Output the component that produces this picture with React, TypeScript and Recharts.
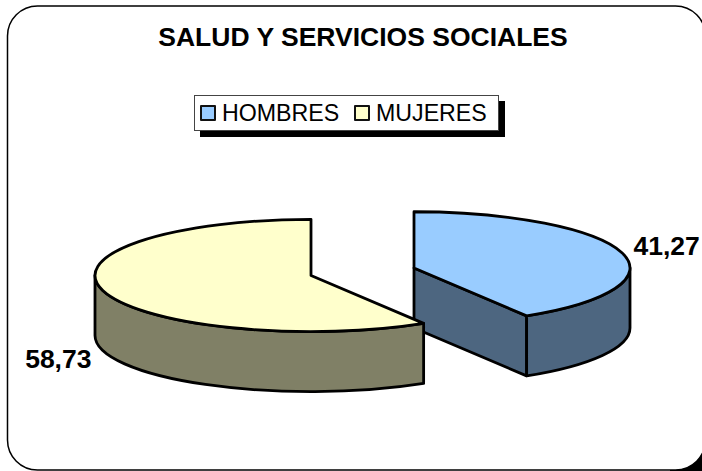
import { PieChart, Pie, Legend } from "recharts";

const categories = ["HOMBRES", "MUJERES"];
const shares = [41.27, 58.73];
const topColors = ["#99CCFF", "#FFFFCC"];
const wallColors = ["#4D6680", "#808066"];

const chartData = categories.map((name, i) => ({
  name,
  value: shares[i],
  fill: topColors[i],
  wall: wallColors[i],
}));

const SQUASH = 0.26;
const DEPTH = 60;
const EXPLODE = 53.5;
const LABEL_RADIUS = 316;
const RAD = Math.PI / 180;

// the pie is tilted, so every slice is drawn as a flattened sector with a wall below it
function TiltedSlice(props: any) {
  const { cx, cy, outerRadius, startAngle, endAngle, midAngle, fill, wall } = props;
  const rx = outerRadius;
  const ry = outerRadius * SQUASH;
  const ox = cx + EXPLODE * Math.cos(midAngle * RAD);
  const oy = cy - EXPLODE * SQUASH * Math.sin(midAngle * RAD);
  const at = (a: number, drop = 0) =>
    `${ox + rx * Math.cos(a * RAD)} ${oy - ry * Math.sin(a * RAD) + drop}`;
  const large = startAngle - endAngle > 180 ? 1 : 0;

  const stroke = { stroke: "#000", strokeWidth: 2.8, strokeLinejoin: "round" as const };
  const cut = (a: number) => (
    <path
      d={`M ${ox} ${oy} L ${at(a)} L ${at(a, DEPTH)} L ${ox} ${oy + DEPTH} Z`}
      fill={wall}
      {...stroke}
    />
  );

  const from = Math.min(startAngle, 0);
  const to = Math.max(endAngle, -180);

  return (
    <g>
      {Math.sin((startAngle + 90) * RAD) < -0.01 && cut(startAngle)}
      {Math.sin((endAngle - 90) * RAD) < -0.01 && cut(endAngle)}
      {from > to && (
        <path
          d={`M ${at(from)} A ${rx} ${ry} 0 0 1 ${at(to)} L ${at(to, DEPTH)} A ${rx} ${ry} 0 0 0 ${at(from, DEPTH)} Z`}
          fill={wall}
          {...stroke}
        />
      )}
      <path
        d={`M ${ox} ${oy} L ${at(startAngle)} A ${rx} ${ry} 0 ${large} 1 ${at(endAngle)} Z`}
        fill={fill}
        {...stroke}
      />
    </g>
  );
}

function sliceLabel(props: any) {
  const { cx, cy, midAngle, value } = props;
  const sin = Math.sin(midAngle * RAD);
  const x = cx + LABEL_RADIUS * Math.cos(midAngle * RAD);
  const y = cy - LABEL_RADIUS * SQUASH * sin + (sin < 0 ? DEPTH + 5 : -3);
  return (
    <text
      x={x}
      y={y}
      textAnchor="middle"
      dominantBaseline="central"
      fontSize={26.5}
      fontWeight="bold"
      fill="#000"
    >
      {value.toFixed(2).replace(".", ",")}
    </text>
  );
}

function LegendBox() {
  return (
    <div
      style={{
        width: 305,
        height: 36,
        boxSizing: "border-box",
        border: "1px solid #444",
        background: "#fff",
        boxShadow: "6px 6px 0 #000",
        fontSize: 23.2,
        color: "#000",
        position: "relative",
      }}
    >
      {categories.map((name, i) => (
        <div key={name} style={{ position: "absolute", left: i === 0 ? 5 : 159, top: 0, height: 34, display: "flex", alignItems: "center" }}>
          <span
            style={{
              display: "inline-block",
              width: 12,
              height: 12,
              border: "2px solid #111",
              borderRadius: 1,
              background: topColors[i],
              marginRight: 6,
            }}
          />
          <span>{name}</span>
        </div>
      ))}
    </div>
  );
}

export default function App() {
  return (
    <div
      style={{
        position: "fixed",
        left: 0,
        top: 0,
        width: 702,
        height: 471,
        overflow: "hidden",
        background: "#fff",
        fontFamily: "'Liberation Sans', Arial, sans-serif",
      }}
    >
      <PieChart width={702} height={471} margin={{ top: 0, right: 0, bottom: 0, left: 0 }}>
        <rect x={670} y={440} width={32} height={31} fill="#000" />
        <rect x={7.5} y={6} width={698} height={464} rx={30} ry={30} fill="#fff" stroke="#000" strokeWidth={1.5} />
        <text x={363} y={37} textAnchor="middle" dominantBaseline="central" fontSize={26.5} fontWeight="bold" fill="#000">
          SALUD Y SERVICIOS SOCIALES
        </text>
        <Pie
          data={chartData}
          dataKey="value"
          nameKey="name"
          cx={362.5}
          cy={271.7}
          outerRadius={216}
          startAngle={90}
          endAngle={-270}
          stroke="none"
          shape={TiltedSlice}
          label={sliceLabel}
          labelLine={false}
          isAnimationActive={false}
        />
        <Legend
          content={() => <LegendBox />}
          wrapperStyle={{ position: "absolute", left: 194, top: 95, width: 305, bottom: "auto" }}
        />
      </PieChart>
    </div>
  );
}
